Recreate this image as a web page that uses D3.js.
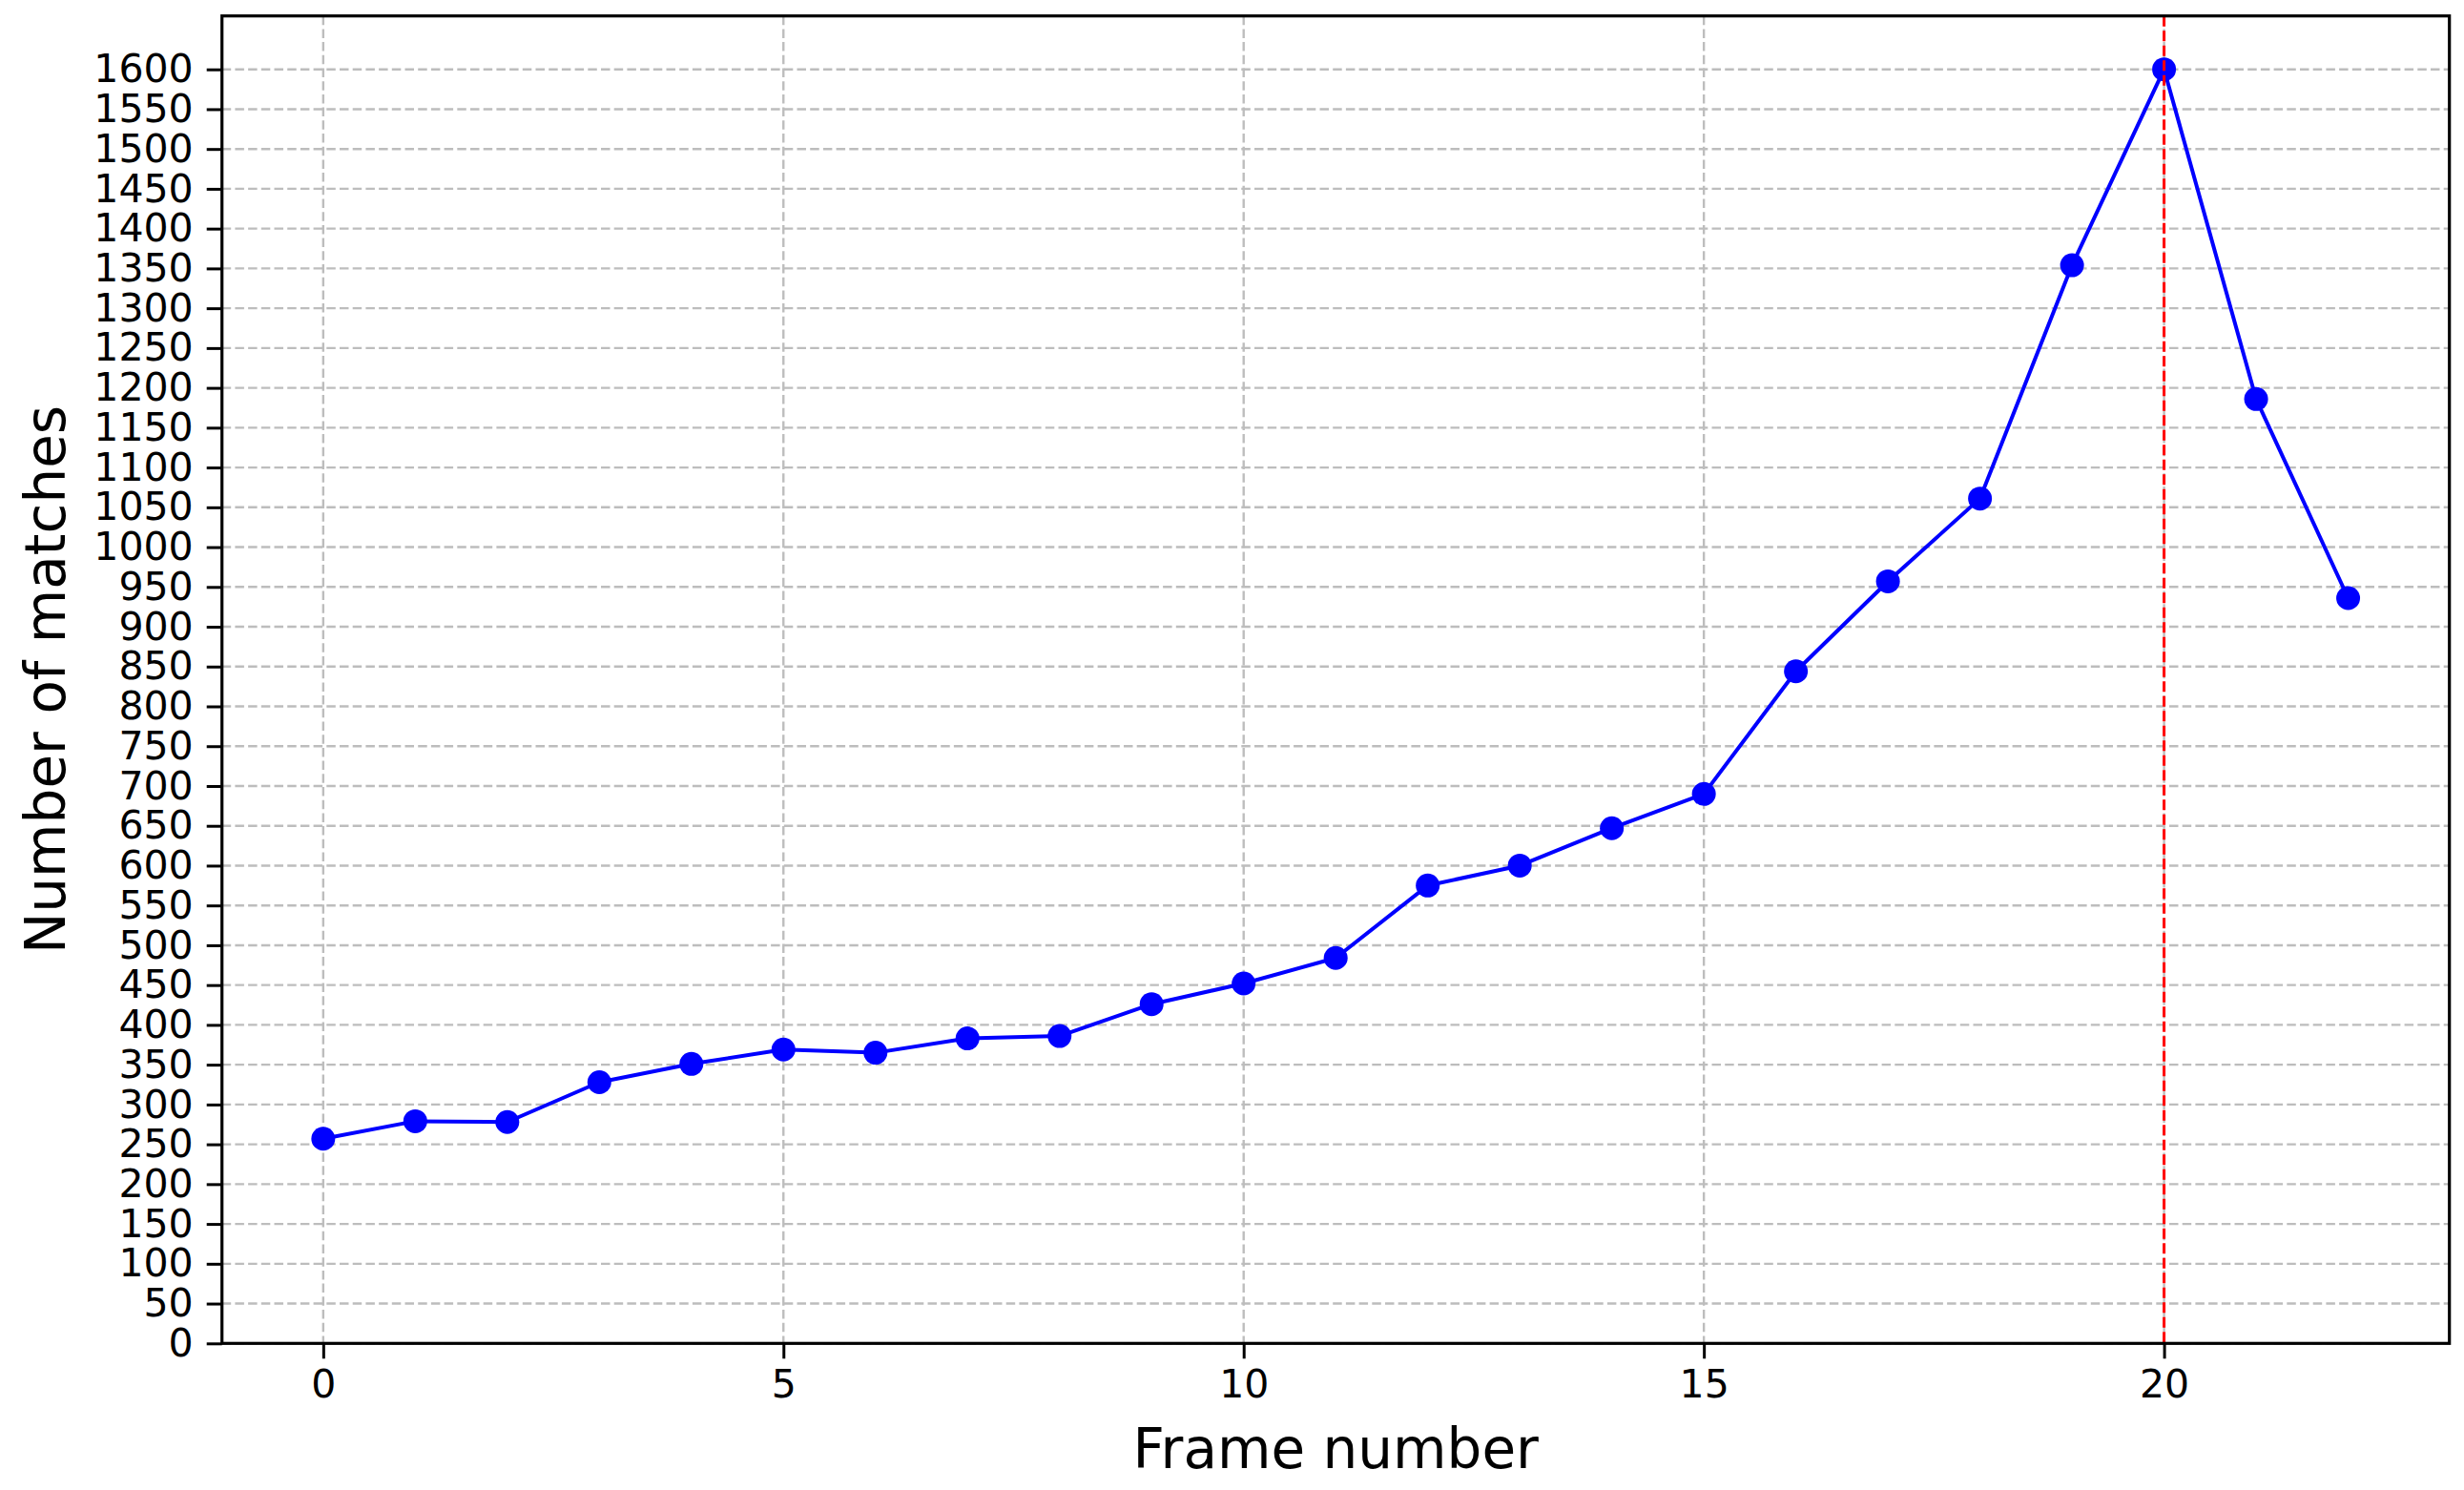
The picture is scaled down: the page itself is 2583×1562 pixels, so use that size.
<!DOCTYPE html>
<html>
<head>
<meta charset="utf-8">
<script src="https://cdn.jsdelivr.net/npm/d3@7"></script>
<style>
  html, body { margin: 0; padding: 0; background: #fff; }
  svg { display: block; font-family: "DejaVu Sans", sans-serif; }
</style>
</head>
<body>
<svg id="chart"></svg>
<script>
// frame index -> number of matches
const frames = [0, 1, 2, 3, 4, 5, 6, 7, 8, 9, 10, 11, 12, 13, 14, 15, 16, 17, 18, 19, 20, 21, 22];
const matches = [257, 279, 278, 328, 351, 369, 365, 383, 386, 426, 452, 484, 575, 600, 647, 690, 844, 957, 1061, 1354, 1600, 1186, 936];
const xTicks = [0, 5, 10, 15, 20];
const yTicks = d3.range(0, 1601, 50);
const markedFrame = 20;

const width = 2583;
const height = 1562;
const margin = {top: 16.7, right: 15.3, bottom: 153.7, left: 232.7};

const svg = d3.select('#chart')
  .attr('width', width)
  .attr('height', height);

const x = d3.scaleLinear()
  .domain([-1.1, 23.1])
  .range([margin.left, width - margin.right]);

const y = d3.scaleLinear()
  .domain([0, 1667.1])
  .range([height - margin.bottom, margin.top]);

const grid = svg.append('g')
  .attr('stroke', '#bdbdbd')
  .attr('stroke-width', 2.4)
  .attr('stroke-dasharray', '9.5,4.2');

grid.selectAll('line.h')
  .data(yTicks)
  .join('line')
  .attr('class', 'h')
  .attr('x1', margin.left)
  .attr('x2', width - margin.right)
  .attr('y1', d => y(d))
  .attr('y2', d => y(d));

grid.selectAll('line.v')
  .data(xTicks)
  .join('line')
  .attr('class', 'v')
  .attr('x1', d => x(d))
  .attr('x2', d => x(d))
  .attr('y1', margin.top)
  .attr('y2', height - margin.bottom);

const line = d3.line()
  .x((d, i) => x(frames[i]))
  .y(d => y(d));

svg.append('path')
  .datum(matches)
  .attr('fill', 'none')
  .attr('stroke', '#0000ff')
  .attr('stroke-width', 4)
  .attr('stroke-linejoin', 'round')
  .attr('d', line);

svg.append('g')
  .attr('fill', '#0000ff')
  .selectAll('circle')
  .data(matches)
  .join('circle')
  .attr('cx', (d, i) => x(frames[i]))
  .attr('cy', d => y(d))
  .attr('r', 12.5);

// peak marker
svg.append('line')
  .attr('x1', x(markedFrame))
  .attr('x2', x(markedFrame))
  .attr('y1', margin.top)
  .attr('y2', height - margin.bottom)
  .attr('stroke', '#ff0000')
  .attr('stroke-width', 3)
  .attr('stroke-dasharray', '11,4.5');

// axes
const xAxis = d3.axisBottom(x)
  .tickValues(xTicks)
  .tickSize(16)
  .tickPadding(12)
  .tickFormat(d3.format('d'));

const yAxis = d3.axisLeft(y)
  .tickValues(yTicks)
  .tickSize(16)
  .tickPadding(14)
  .tickFormat(d3.format('d'));

const gx = svg.append('g')
  .attr('transform', `translate(0,${height - margin.bottom})`)
  .call(xAxis);

const gy = svg.append('g')
  .attr('transform', `translate(${margin.left},0)`)
  .call(yAxis);

[gx, gy].forEach(g => {
  g.select('.domain').remove();
  g.selectAll('.tick line').attr('stroke', '#000').attr('stroke-width', 3);
  g.selectAll('.tick text')
    .attr('fill', '#000')
    .style('font-family', '"DejaVu Sans", sans-serif')
    .style('font-size', '41px');
});

svg.append('rect')
  .attr('x', margin.left)
  .attr('y', margin.top)
  .attr('width', width - margin.left - margin.right)
  .attr('height', height - margin.top - margin.bottom)
  .attr('fill', 'none')
  .attr('stroke', '#000')
  .attr('stroke-width', 3.2);

svg.append('text')
  .attr('x', (margin.left + width - margin.right) / 2)
  .attr('y', 1539)
  .attr('text-anchor', 'middle')
  .style('font-size', '58px')
  .text('Frame number');

svg.append('text')
  .attr('transform', `translate(68,${(margin.top + height - margin.bottom) / 2}) rotate(-90)`)
  .attr('text-anchor', 'middle')
  .style('font-size', '58px')
  .text('Number of matches');
</script>
</body>
</html>
